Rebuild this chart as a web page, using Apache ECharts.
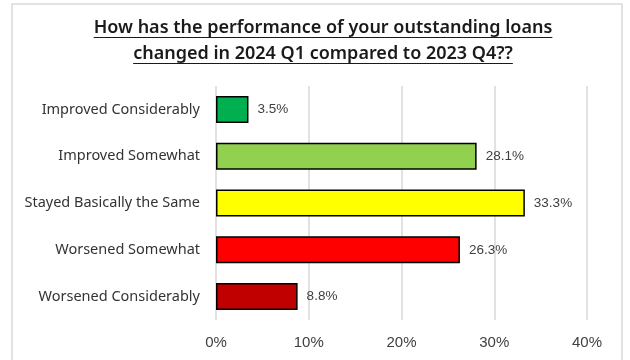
<!DOCTYPE html>
<html>
<head>
<meta charset="utf-8">
<script src="https://cdn.jsdelivr.net/npm/echarts@6/dist/echarts.min.js"></script>
<style>
  html, body { margin: 0; padding: 0; background: #ffffff; }
  #chart { width: 630px; height: 360px; }
</style>
</head>
<body>
<div id="chart"></div>
<script>
// Survey responses (share of respondents, %)
const categories = [
  'Improved Considerably',
  'Improved Somewhat',
  'Stayed Basically the Same',
  'Worsened Somewhat',
  'Worsened Considerably'
];
const shares = [3.5, 28.1, 33.3, 26.3, 8.8];
const barColors = ['#00B050', '#92D050', '#FFFF00', '#FF0000', '#C00000'];
const tickValues = [0, 10, 20, 30, 40];
const titleLines = [
  'How has the performance of your outstanding loans',
  'changed in 2024 Q1 compared to 2023 Q4??'
];

const chart = echarts.init(document.getElementById('chart'), null, { renderer: 'canvas' });

const titleFont = '"Noto Sans", sans-serif';
const titleSize = 18;
const titleWeight = 600;
const titleCenterX = 323;

const option = {
  backgroundColor: '#ffffff',
  animation: false,
  title: {
    text: titleLines.join('\n'),
    left: titleCenterX,
    textAlign: 'center',
    top: 15,
    padding: 0,
    textStyle: {
      fontFamily: titleFont,
      fontSize: titleSize,
      fontWeight: titleWeight,
      color: '#1a1a1a',
      lineHeight: 26
    }
  },
  grid: {
    left: 216,
    right: 43,
    top: 86,
    bottom: 40,
    containLabel: false
  },
  xAxis: {
    type: 'value',
    min: tickValues[0],
    max: tickValues[tickValues.length - 1],
    interval: tickValues[1] - tickValues[0],
    axisLine: { show: false },
    axisTick: { show: false },
    splitLine: { show: true, lineStyle: { color: '#d9d9d9', width: 1.5 } },
    axisLabel: {
      formatter: v => v + '%',
      fontFamily: '"Liberation Sans", Arial, sans-serif',
      fontSize: 15,
      color: '#404040',
      margin: 15
    }
  },
  yAxis: {
    type: 'category',
    data: categories,
    inverse: true,
    axisLine: { show: false },
    axisTick: { show: false },
    splitLine: { show: false },
    axisLabel: {
      fontFamily: '"Noto Sans", sans-serif',
      fontSize: 14.5,
      color: '#333333',
      margin: 16
    }
  },
  series: [{
    type: 'bar',
    data: shares.map((v, i) => ({ value: v, itemStyle: { color: barColors[i] } })),
    barWidth: 27,
    itemStyle: { borderColor: '#000000', borderWidth: 1.5 },
    label: {
      show: true,
      position: 'right',
      distance: 9,
      formatter: p => p.value.toFixed(1) + '%',
      fontFamily: '"Liberation Sans", Arial, sans-serif',
      fontSize: 13.5,
      color: '#404040'
    }
  }],
  graphic: [
    {
      type: 'rect',
      shape: { x: 12, y: 4, width: 610, height: 370 },
      style: { fill: 'none', stroke: '#d9d9d9', lineWidth: 1.5 },
      silent: true,
      z: -1
    }
  ]
};

chart.setOption(option);

// Underline each title line, sized to its measured text width
(function underlineTitle() {
  const ctx = document.createElement('canvas').getContext('2d');
  ctx.font = titleWeight + ' ' + titleSize + 'px ' + titleFont;
  const baseY = [37.5, 63.5];
  const lines = titleLines.map((t, i) => {
    const w = ctx.measureText(t).width;
    return {
      type: 'line',
      shape: { x1: titleCenterX - w / 2, y1: baseY[i], x2: titleCenterX + w / 2, y2: baseY[i] },
      style: { stroke: '#1a1a1a', lineWidth: 1.2 },
      silent: true
    };
  });
  chart.setOption({ graphic: option.graphic.concat(lines) });
})();
</script>
</body>
</html>
